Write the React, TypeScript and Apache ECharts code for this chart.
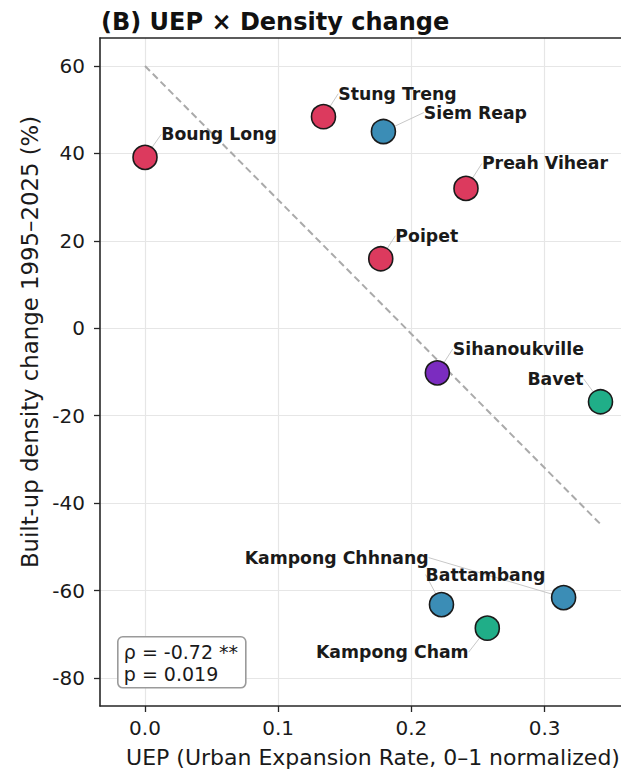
import React, { useEffect, useRef } from "react";
import * as echarts from "echarts";

// Cities: UEP (normalized urban expansion rate) vs built-up density change (%)
const cities = [
  "Boung Long",
  "Stung Treng",
  "Siem Reap",
  "Preah Vihear",
  "Poipet",
  "Sihanoukville",
  "Bavet",
  "Kampong Chhnang",
  "Battambang",
  "Kampong Cham",
];
const uep = [0.0, 0.134, 0.179, 0.241, 0.177, 0.2195, 0.342, 0.3143, 0.2226, 0.257];
const densityChange = [39.1, 48.4, 45.0, 32.0, 15.9, -10.2, -16.8, -61.6, -63.2, -68.6];
const colors = [
  "#dc3a5e",
  "#dc3a5e",
  "#3b8db6",
  "#dc3a5e",
  "#dc3a5e",
  "#7b2cc0",
  "#20ae88",
  "#3b8db6",
  "#3b8db6",
  "#20ae88",
];

// Linear fit over the UEP range
const fitX = [0.0, 0.342];
const fitY = [60.0, -44.8];

const xTicks = [0.0, 0.1, 0.2, 0.3];
const yTicks = [60, 40, 20, 0, -20, -40, -60, -80];

const X_MIN = -0.0338;
const X_MAX = 0.3634;

// Label offsets in pixels (label centre relative to the marker)
const labelOffsets: [number, number][] = [
  [74, -23],
  [74, -23],
  [92, -19],
  [79, -25],
  [46, -23],
  [81, -24],
  [-45, -23],
  [-227, -40],
  [44, -30],
  [-95, 24],
];

const FONT = "'DejaVu Sans', 'Liberation Sans', sans-serif";
const SPINE = { color: "#262626", width: 1.6 };

export default function App() {
  const ref = useRef<HTMLDivElement>(null);

  useEffect(() => {
    if (!ref.current) return;
    const chart = echarts.init(ref.current, undefined, { renderer: "svg" });

    const points = uep.map((x, i) => ({
      name: cities[i],
      value: [x, densityChange[i]],
      itemStyle: { color: colors[i] },
    }));

    chart.setOption({
      animation: false,
      backgroundColor: "#ffffff",
      textStyle: { fontFamily: FONT },
      title: {
        text: "(B) UEP × Density change",
        left: 101,
        top: 7,
        padding: 0,
        textStyle: {
          fontFamily: FONT,
          fontSize: 24,
          fontWeight: "bold",
          color: "#111111",
          lineHeight: 30,
        },
      },
      grid: {
        left: 100,
        top: 38,
        right: 0,
        bottom: 65,
      },
      xAxis: [
        {
          type: "value",
          min: X_MIN,
          max: X_MAX,
          name: "UEP (Urban Expansion Rate, 0–1 normalized)",
          nameLocation: "middle",
          nameGap: 40,
          nameTextStyle: {
            fontFamily: FONT,
            fontSize: 22,
            color: "#1a1a1a",
            padding: [0, 0, 0, 17],
          },
          axisLine: { show: true, onZero: false, lineStyle: SPINE },
          axisTick: {
            show: true,
            length: 6,
            customValues: xTicks,
            lineStyle: { color: "#262626", width: 1.3 },
          },
          axisLabel: {
            customValues: xTicks,
            margin: 12,
            fontFamily: FONT,
            fontSize: 20,
            color: "#1a1a1a",
            formatter: (v: number) => v.toFixed(1),
          },
          splitLine: { show: true, lineStyle: { color: "#e6e6e6", width: 1.2 } },
        },
        {
          // top spine
          type: "value",
          position: "top",
          min: X_MIN,
          max: X_MAX,
          axisLine: { show: true, onZero: false, lineStyle: SPINE },
          axisTick: { show: false },
          axisLabel: { show: false },
          splitLine: { show: false },
        },
      ],
      yAxis: {
        type: "value",
        min: -86.4,
        max: 66.4,
        name: "Built-up density change 1995–2025 (%)",
        nameLocation: "middle",
        nameGap: 58,
        nameRotate: 90,
        nameTextStyle: {
          fontFamily: FONT,
          fontSize: 22.8,
          color: "#1a1a1a",
          padding: [0, 0, 0, 60],
        },
        axisLine: { show: true, onZero: false, lineStyle: SPINE },
        axisTick: {
          show: true,
          length: 6,
          customValues: yTicks,
          lineStyle: { color: "#262626", width: 1.3 },
        },
        axisLabel: {
          customValues: yTicks,
          margin: 15,
          fontFamily: FONT,
          fontSize: 20,
          color: "#1a1a1a",
          formatter: (v: number) => String(v),
        },
        splitLine: { show: true, lineStyle: { color: "#e6e6e6", width: 1.2 } },
      },
      graphic: [
        {
          type: "group",
          left: 117,
          top: 636,
          z: 100,
          children: [
            {
              type: "rect",
              z: 100,
              shape: { x: 0, y: 0, width: 128, height: 51, r: 5 },
              style: { fill: "#ffffff", stroke: "#9a9a9a", lineWidth: 1.6 },
            },
            {
              type: "text",
              z: 101,
              x: 6,
              y: 4,
              style: {
                text: "ρ = -0.72 **\np = 0.019",
                fontFamily: FONT,
                fontSize: 19,
                lineHeight: 22,
                fill: "#1a1a1a",
              },
            },
          ],
        },
      ],
      series: [
        {
          type: "line",
          data: fitX.map((x, i) => [x, fitY[i]]),
          symbol: "none",
          silent: true,
          z: 1,
          lineStyle: { color: "#aaaaaa", width: 2, type: [7, 4] },
        },
        {
          type: "scatter",
          data: points,
          symbolSize: 24,
          z: 3,
          itemStyle: { borderColor: "#1a1a1a", borderWidth: 1.6, opacity: 1 },
          label: {
            show: true,
            position: "inside",
            formatter: (p: any) => p.name,
            fontFamily: FONT,
            fontSize: 17.3,
            fontWeight: "bold",
            color: "#1a1a1a",
          },
          labelLine: {
            show: true,
            lineStyle: { color: "#c8c8c8", width: 1 },
          },
          labelLayout: (params: any) => {
            const off = labelOffsets[params.dataIndex];
            return { dx: off[0], dy: off[1] };
          },
        },
      ],
    });

    return () => chart.dispose();
  }, []);

  return <div ref={ref} style={{ width: 629, height: 773, marginLeft: -8, marginTop: -8 }} />;
}
